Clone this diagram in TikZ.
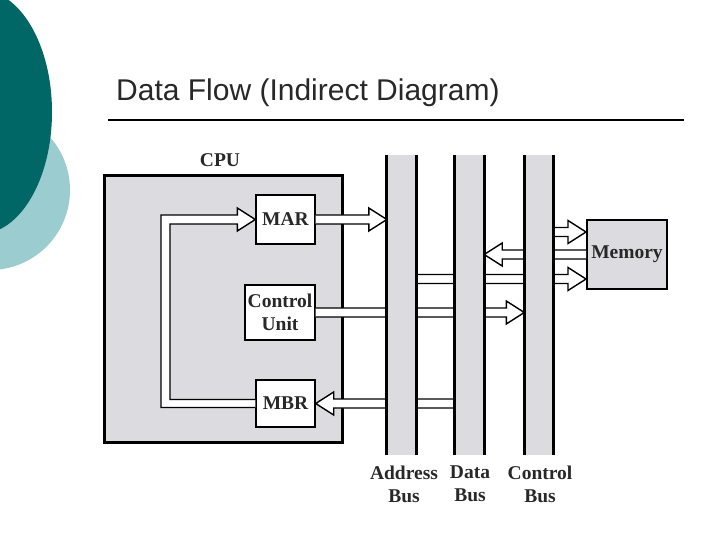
\documentclass[tikz,border=0pt]{standalone}
\usepackage{fontspec}
\setmainfont{Liberation Serif}
\newfontfamily\titlefont{Liberation Sans}
\usetikzlibrary{calc}
\definecolor{tealdark}{RGB}{0,102,102}
\definecolor{teallight}{RGB}{155,205,208}
\definecolor{boxgray}{RGB}{220,220,224}
\definecolor{txt}{RGB}{40,40,40}
\tikzset{
  hollow/.style={fill=white,draw=black,line width=1.4pt,line join=miter},
  blk/.style={draw=black,line width=1.4pt,fill=white,font=\bfseries\fontsize{19.5}{19.5}\selectfont,text=txt,align=center,inner sep=0pt},
  bus/.style={fill=boxgray,draw=none,minimum width=29pt,minimum height=300pt,inner sep=0pt},
  buslabel/.style={font=\bfseries\fontsize{19.5}{23}\selectfont,text=txt,align=center}
}
\newcommand\harrow[2]{\path[hollow] let \p1=#1, \p2=#2, \n1={sign(\x2-\x1)} in
  (\x1,{\y1+4.5pt}) -- ({\x2-\n1*18pt},{\y1+4.5pt}) -- ({\x2-\n1*18pt},{\y1+11.5pt}) -- (\x2,\y1)
  -- ({\x2-\n1*18pt},{\y1-11.5pt}) -- ({\x2-\n1*18pt},{\y1-4.5pt}) -- (\x1,{\y1-4.5pt});}
\begin{document}
\begin{tikzpicture}[x=1pt,y=-1pt]
\useasboundingbox (0,0) rectangle (720,540);
\fill[teallight] (-10,190) circle (80);
\fill[tealdark] (-20,112) ellipse (72 and 122);
\node[anchor=west,font=\titlefont\fontsize{30}{30}\selectfont,text=txt,inner sep=0pt] (title) at (116,93) {Data Flow (Indirect Diagram)};
\draw[line width=1.2pt] (108,120) coordinate (l1) -- (684,120) coordinate (l2);
% CPU
\node[font=\bfseries\fontsize{19.5}{19.5}\selectfont,text=txt] (cpulabel) at (220,160) {CPU};
\node[draw=black,line width=3pt,fill=boxgray,minimum width=238pt,minimum height=266pt,inner sep=0pt] (cpu) at (223,309) {};
\node[blk,minimum width=59pt,minimum height=49pt] (MAR) at (285.5,219.5) {MAR};
\node[blk,minimum width=70pt,minimum height=55pt,font=\bfseries\fontsize{19.5}{23}\selectfont] (CU) at (280,312.5) {Control\\Unit};
\node[blk,minimum width=59pt,minimum height=47pt] (MBR) at (285.5,403.5) {MBR};
% buses (positions)
\path (401.5,305) node[bus] (ab) {} (469.5,305) node[bus] (db) {} (539,305) node[bus] (cb) {};
\node[draw=black,line width=2pt,fill=boxgray,minimum width=80pt,minimum height=69pt,font=\bfseries\fontsize{19.5}{19.5}\selectfont,text=txt,inner sep=0pt] (Mem) at (627,254.5) {Memory};
% loop MBR -> MAR
\path[hollow] let \p1=(MBR.west), \p2=(MAR.west) in
  (\x1,{\y1-4pt}) -- (161,{\y1-4pt}) |- ({\x2-18pt},{\y2+4.5pt}) -- ({\x2-18pt},{\y2+11.5pt}) -- (\x2,\y2)
  -- ({\x2-18pt},{\y2-11.5pt}) -- ({\x2-18pt},{\y2-4.5pt}) -- (170,{\y2-4.5pt}) |- (\x1,{\y1+4pt});
% arrows
\harrow{(MAR.east)}{(ab.west |- MAR.east)}
\harrow{(CU.east)}{(cb.west |- CU.east)}
\harrow{(db.west |- MBR.east)}{(MBR.east)}
\coordinate (m1) at ([yshift=22.5pt]Mem.west);
\coordinate (m3) at ([yshift=-24.5pt]Mem.west);
\harrow{(cb.east |- m1)}{(m1)}
\harrow{(Mem.west)}{(db.east |- Mem.west)}
\harrow{(ab.east |- m3)}{(m3)}
% buses on top
\foreach \b in {ab,db,cb}{
  \fill[boxgray] (\b.north west) rectangle (\b.south east);
  \draw[line width=3pt] (\b.north west) -- (\b.south west) (\b.north east) -- (\b.south east);
}
\node[buslabel] (abl) at (404,484) {Address\\Bus};
\node[buslabel] (dbl) at (470,484) {Data\\Bus};
\node[buslabel] (cbl) at (540,484) {Control\\Bus};
\end{tikzpicture}
\end{document}
